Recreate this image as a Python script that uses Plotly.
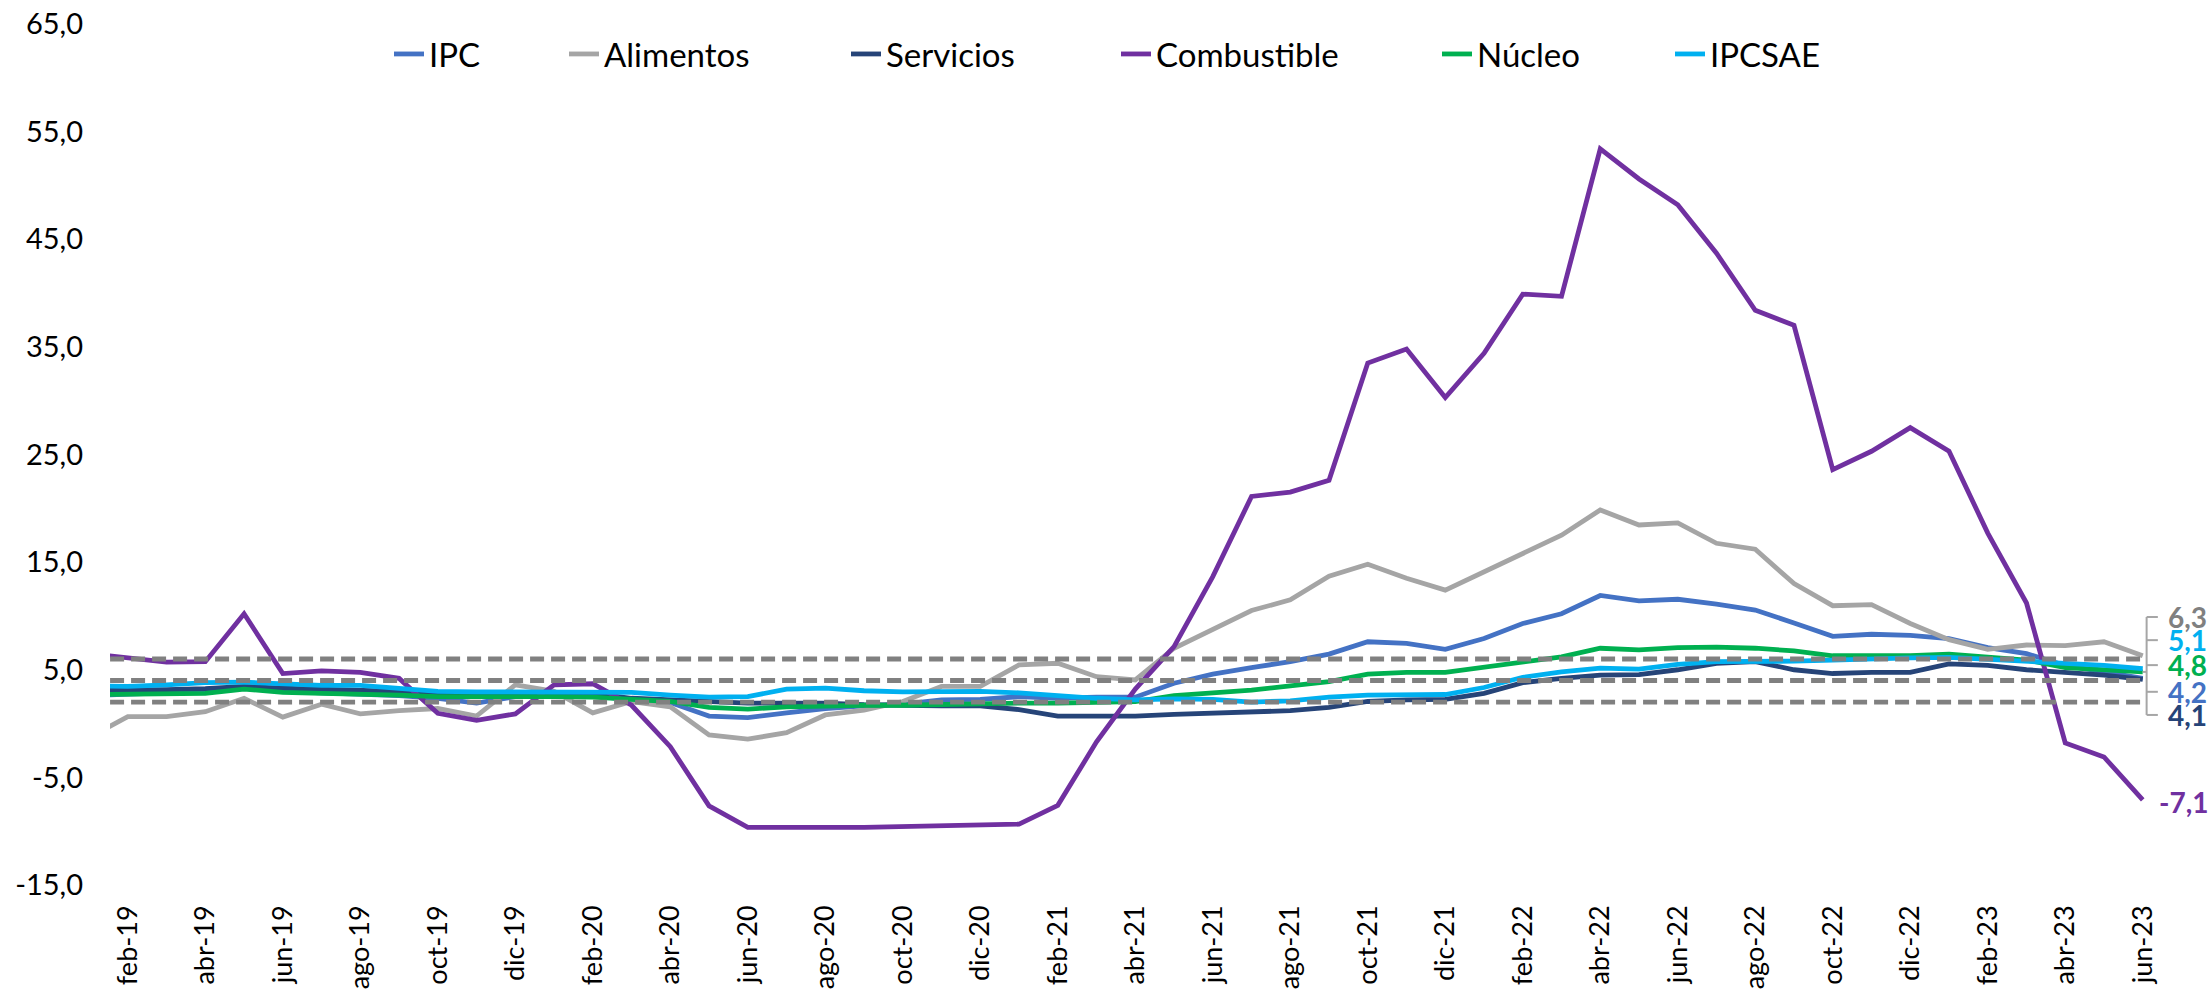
import plotly.graph_objects as go

# Etiquetas mensuales: ene-19 ... jun-23
abrev = ["ene", "feb", "mar", "abr", "may", "jun", "jul", "ago", "sep", "oct", "nov", "dic"]
meses = [f"{abrev[m]}-{a % 100:02d}" for a in range(2019, 2024) for m in range(12)]
meses = meses[:meses.index("jun-23") + 1]

# Variación interanual (%)
ipc = [2.6, 2.75, 2.8, 3.0, 3.3, 3.0, 2.85, 2.75, 2.6, 2.35, 1.9, 2.5, 2.6, 2.55,
       2.25, 1.95, 0.7, 0.55, 1.0, 1.4, 1.65, 1.8, 2.2, 2.25, 2.5, 2.35, 2.45, 2.45,
       3.75, 4.6, 5.2, 5.75, 6.45, 7.6, 7.45, 6.9, 7.9, 9.3, 10.2, 11.9, 11.4, 11.55,
       11.1, 10.55, 9.35, 8.1, 8.3, 8.2, 7.9, 7.05, 6.5, 5.4, 4.8, 4.2]
alimentos = [-1.3, 0.65, 0.65, 1.1, 2.35, 0.6, 1.8, 0.9, 1.2, 1.4, 0.7, 3.6, 3.0, 1.0,
             2.05, 1.55, -1.05, -1.45, -0.85, 0.8, 1.25, 2.05, 3.45, 3.45, 5.45, 5.6, 4.35, 4.05,
             7.0, 8.7, 10.5, 11.5, 13.7, 14.8, 13.5, 12.4, 14.1, 15.75, 17.5, 19.85, 18.45, 18.65,
             16.75, 16.2, 13.0, 10.95, 11.05, 9.3, 7.8, 6.9, 7.3, 7.25, 7.6, 6.3]
servicios = [3.1, 3.1, 3.15, 3.25, 3.45, 3.3, 3.2, 3.15, 3.0, 2.8, 2.7, 2.75, 2.8, 2.8,
             2.35, 2.2, 2.0, 1.9, 1.9, 1.9, 1.75, 1.65, 1.65, 1.65, 1.3, 0.7, 0.7, 0.7,
             0.85, 0.95, 1.05, 1.2, 1.5, 2.05, 2.2, 2.25, 2.8, 3.8, 4.2, 4.5, 4.55, 5.0,
             5.6, 5.75, 5.0, 4.65, 4.75, 4.75, 5.55, 5.4, 5.0, 4.75, 4.5, 4.1]
combustible = [6.5, 6.1, 5.7, 5.75, 10.2, 4.65, 4.9, 4.75, 4.2, 0.95, 0.3, 0.9, 3.6, 3.7,
               1.7, -2.15, -7.65, -9.65, -9.7, -9.65, -9.65, -9.6, -9.5, -9.5, -9.35, -7.6, -1.7, 3.2,
               7.15, 13.65, 21.1, 21.5, 22.6, 33.5, 34.8, 30.3, 34.4, 39.9, 39.7, 53.4, 50.6, 48.2,
               43.7, 38.4, 37.0, 23.6, 25.3, 27.5, 25.3, 17.7, 11.2, -1.8, -3.1, -7.1]
nucleo = [2.7, 2.7, 2.7, 2.8, 3.2, 2.9, 2.8, 2.75, 2.65, 2.5, 2.45, 2.5, 2.5, 2.45,
          2.25, 2.05, 1.5, 1.35, 1.55, 1.65, 1.7, 1.7, 1.8, 1.9, 1.9, 1.9, 1.95, 2.05,
          2.6, 2.8, 3.1, 3.5, 3.9, 4.6, 4.75, 4.75, 5.2, 5.7, 6.2, 7.0, 6.85, 7.05,
          7.1, 7.0, 6.75, 6.3, 6.3, 6.3, 6.45, 6.2, 5.9, 5.2, 5.05, 4.8]
ipcsae = [3.5, 3.45, 3.6, 3.8, 3.85, 3.7, 3.55, 3.55, 3.3, 3.0, 2.95, 2.95, 3.0, 2.95,
          2.9, 2.65, 2.45, 2.5, 3.2, 3.3, 3.05, 2.95, 3.0, 3.0, 2.85, 2.55, 2.35, 2.2,
          2.3, 2.25, 2.0, 2.1, 2.45, 2.65, 2.7, 2.7, 3.35, 4.3, 4.8, 5.15, 5.05, 5.5,
          5.75, 5.75, 5.8, 5.9, 6.05, 6.1, 6.15, 6.0, 5.75, 5.6, 5.4, 5.1]

# Rango meta: 4% +/- 2 p.p.
rango_meta = [2.0, 4.0, 6.0]

# Marcas del eje vertical
y_ticks = list(range(-15, 66, 10))

series = [
    ("IPC", ipc, "#4472C4"),
    ("Alimentos", alimentos, "#A5A5A5"),
    ("Servicios", servicios, "#264478"),
    ("Combustible", combustible, "#7030A0"),
    ("Núcleo", nucleo, "#00B050"),
    ("IPCSAE", ipcsae, "#00B0F0"),
]

# Posición de las etiquetas finales (valor del eje y donde se escribe el texto)
etiquetas_y = {"Alimentos": 9.9, "IPCSAE": 7.75, "Núcleo": 5.43, "IPC": 2.95, "Servicios": 0.8}
color_etiqueta = {"Alimentos": "#808080"}


def coma(v):
    return f"{v:.1f}".replace(".", ",")


FONT = "Lato, Calibri, sans-serif"
W, H = 2209, 996
ML, MR, MT, MB = 110, 0, 24, 111
x_range = [0.54, 54.71]

# Inicio del texto de cada entrada de leyenda (px)
leyenda_x = [431, 606, 888, 1158, 1479, 1712]

fig = go.Figure()

for k, (nombre, valores, color) in enumerate(series):
    ley = "legend" if k == 0 else f"legend{k + 1}"
    fig.add_trace(go.Scatter(
        x=meses, y=valores, name=nombre, mode="lines",
        line=dict(color=color, width=4.8), legend=ley,
    ))

for v in rango_meta:
    fig.add_trace(go.Scatter(
        x=[meses[0], meses[-1]], y=[v, v], mode="lines", showlegend=False,
        line=dict(color="#808080", width=4.8, dash="14px,7px"), hoverinfo="skip",
    ))

# Etiquetas del último dato y líneas guía
ultimo = len(meses) - 1
x_guia, x_tope, x_texto = ultimo + 0.1, ultimo + 0.39, ultimo + 0.6
ys = []
for nombre, valores, color in series:
    texto = coma(valores[-1])
    if nombre in etiquetas_y:
        yl = etiquetas_y[nombre]
        ys.append(yl)
        fig.add_shape(type="line", xref="x", yref="y", x0=x_guia, x1=x_tope, y0=yl, y1=yl,
                      line=dict(color="#A6A6A6", width=2))
        fig.add_annotation(x=x_texto, y=yl, xref="x", yref="y", text=f"<b>{texto}</b>",
                           showarrow=False, xanchor="left", yanchor="middle",
                           font=dict(family=FONT, size=28, color=color_etiqueta.get(nombre, color)))
    else:
        fig.add_annotation(x=ultimo + 0.37, y=valores[-1] - 0.15, xref="x", yref="y",
                           text=f"<b>{texto}</b>", showarrow=False, xanchor="left",
                           yanchor="middle", font=dict(family=FONT, size=28, color=color))
fig.add_shape(type="line", xref="x", yref="y", x0=x_guia, x1=x_guia, y0=min(ys), y1=max(ys),
              line=dict(color="#A6A6A6", width=2))
fig.add_shape(type="line", xref="x", yref="y", x0=ultimo, x1=x_guia, y0=nucleo[-1], y1=nucleo[-1],
              line=dict(color="#A6A6A6", width=2))

plot_w = W - ML - MR
leyendas = {}
for k, xt in enumerate(leyenda_x):
    clave = "legend" if k == 0 else f"legend{k + 1}"
    leyendas[clave] = dict(
        x=(xt - 42 - ML) / plot_w, y=1 - (54 - MT) / (H - MT - MB),
        xanchor="left", yanchor="middle", orientation="h",
        bgcolor="rgba(0,0,0,0)", borderwidth=0,
        font=dict(family=FONT, size=33, color="#000000"),
    )

fig.update_layout(
    width=W, height=H,
    margin=dict(l=ML, r=MR, t=MT, b=MB),
    plot_bgcolor="#FFFFFF", paper_bgcolor="#FFFFFF",
    showlegend=True,
    **leyendas,
)

fig.update_xaxes(
    type="category", categoryorder="array", categoryarray=meses,
    range=x_range, tickmode="array", tickvals=meses[1::2], ticktext=meses[1::2],
    tickangle=-90, showgrid=False, zeroline=False, showline=False, ticks="",
    ticklabelstandoff=14,
    tickfont=dict(family=FONT, size=27, color="#000000"),
)
fig.update_yaxes(
    range=[-15, 65], tickmode="array", tickvals=y_ticks,
    ticktext=[coma(t) for t in y_ticks],
    showgrid=False, zeroline=False, showline=False, ticks="",
    ticklabelstandoff=26,
    tickfont=dict(family=FONT, size=29, color="#000000"),
)

fig.write_html("out.html")
